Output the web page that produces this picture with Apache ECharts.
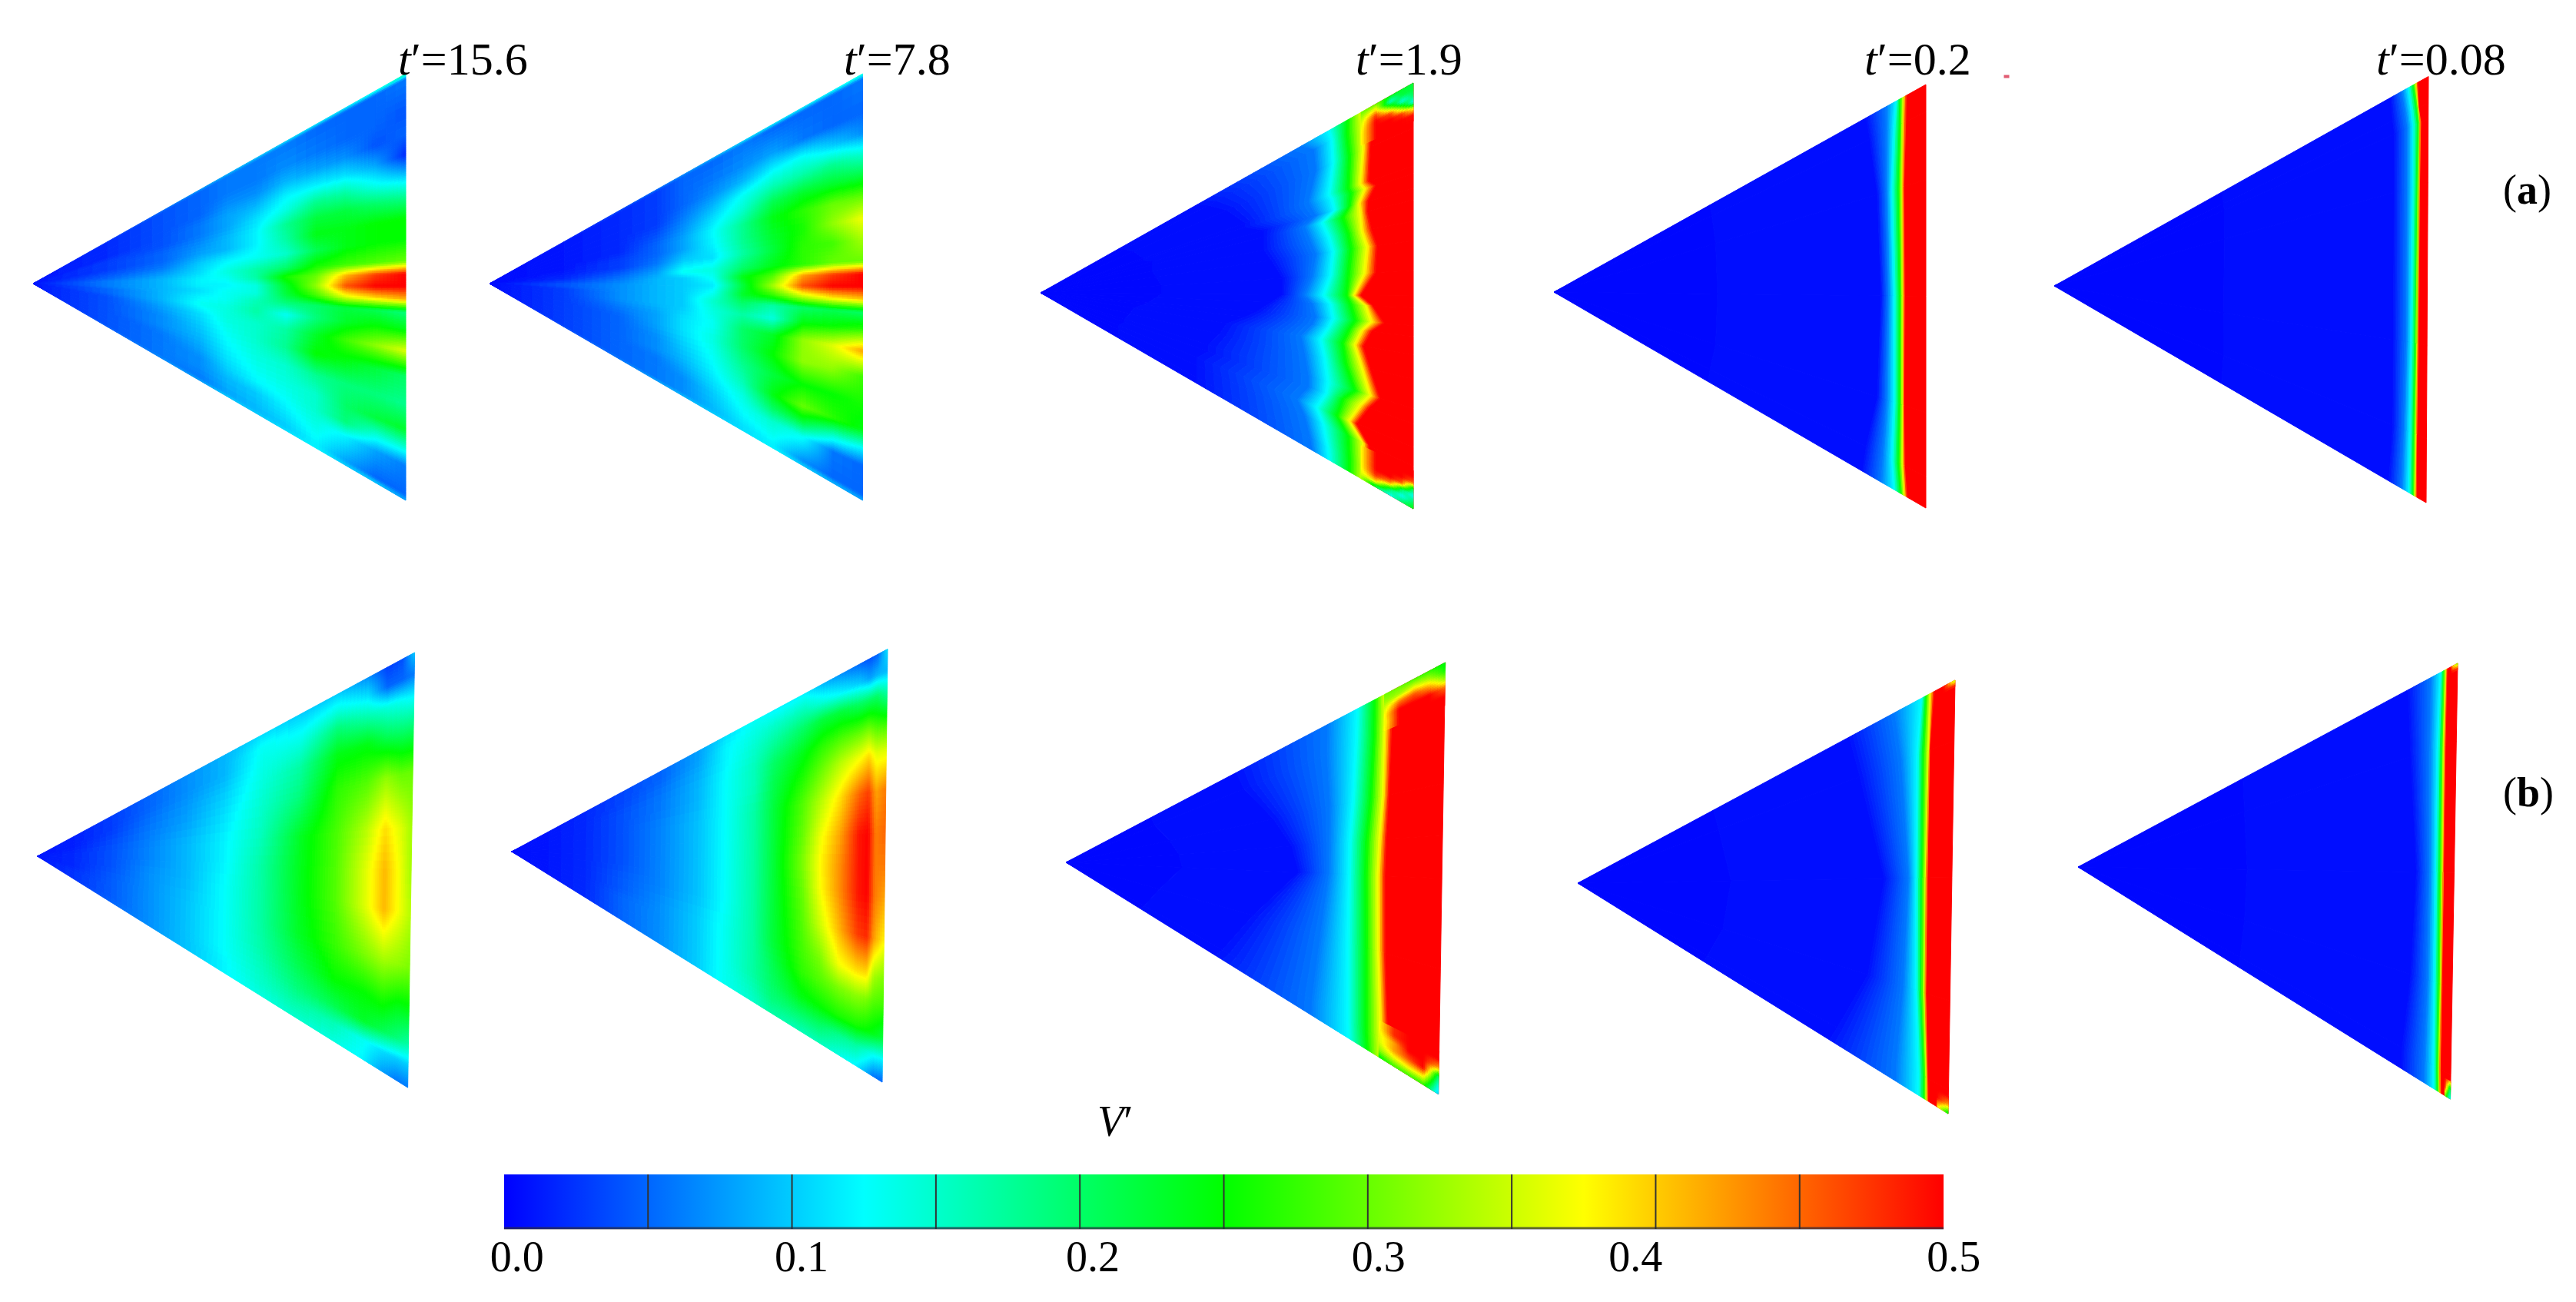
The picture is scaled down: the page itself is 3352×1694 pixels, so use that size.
<!DOCTYPE html>
<html><head><meta charset="utf-8">
<style>html,body{margin:0;padding:0;background:#fff}#c{width:3352px;height:1694px}</style>
<script src="https://cdn.jsdelivr.net/npm/echarts@6/dist/echarts.min.js"></script>
</head><body><div id="c"></div>
<script>
// ---------- colour scale ----------
const colorRamp = ['#0000ff','#00ffff','#00ff00','#ffff00','#ff0000'];
const vMax = 0.5;
const barTicks = [0.05,0.1,0.15,0.2,0.25,0.3,0.35,0.4,0.45];
const barLabelValues = [0.0045,0.1033,0.2045,0.3037,0.393,0.5035];
const timeLabels = ['15.6','7.8','1.9','0.2','0.08'];

// ---------- V': columns along xi, rows along eta (wedge coordinates) ----------
const xiA = [0,.2,.35,.45,.52,.6,.68,.76,.84,.92,1];
const etaA = [1,.975,.82,.72,.62,.52,.42,.32,.22,.12,.06,0,-.06,-.12,-.2,-.3,-.42,-.55,-.67,-.76,-.84,-.975,-1];
const panel1 = [
[.01,.01,.01,.01,.01,.01,.01,.01,.01,.01,.01,.01,.01,.01,.01,.01,.01,.01,.01,.01,.01,.01,.01],
[.03,.02,.02,.02,.02,.03,.03,.03,.04,.05,.06,.06,.06,.05,.05,.04,.04,.04,.04,.04,.04,.04,.05],
[.06,.04,.04,.04,.04,.04,.05,.05,.06,.08,.09,.09,.09,.09,.09,.08,.07,.07,.06,.06,.06,.06,.07],
[.08,.05,.05,.05,.06,.06,.07,.08,.1,.11,.12,.12,.11,.12,.13,.11,.1,.09,.08,.07,.07,.06,.08],
[.09,.06,.06,.07,.08,.08,.09,.09,.12,.14,.13,.12,.13,.13,.14,.14,.13,.12,.11,.1,.09,.08,.1],
[.1,.06,.06,.07,.09,.11,.12,.12,.13,.17,.17,.14,.14,.16,.17,.15,.15,.14,.13,.12,.1,.09,.1],
[.11,.06,.07,.09,.12,.14,.18,.17,.15,.2,.26,.23,.22,.19,.13,.17,.18,.15,.14,.13,.12,.1,.11],
[.12,.05,.06,.08,.12,.18,.22,.24,.21,.26,.3,.32,.28,.2,.19,.23,.25,.18,.15,.15,.14,.12,.12],
[.12,.05,.05,.07,.11,.17,.22,.24,.24,.28,.41,.46,.36,.22,.23,.28,.24,.19,.2,.19,.12,.08,.1],
[.14,.05,.05,.04,.08,.13,.2,.25,.25,.29,.47,.5,.39,.21,.25,.32,.22,.19,.22,.14,.08,.05,.1],
[.17,.06,.04,.05,.02,.1,.18,.25,.25,.3,.5,.5,.41,.19,.24,.36,.2,.18,.23,.14,.06,.05,.08]];
const panel2 = [
[.005,.005,.005,.005,.005,.005,.005,.005,.005,.005,.005,.005,.005,.005,.005,.005,.005,.005,.005,.005,.005,.005,.005],
[.02,.01,.01,.01,.01,.01,.01,.01,.015,.02,.03,.04,.04,.03,.03,.03,.03,.03,.03,.03,.03,.03,.04],
[.04,.02,.02,.02,.02,.02,.02,.03,.03,.05,.06,.07,.07,.07,.07,.06,.05,.05,.05,.05,.05,.05,.06],
[.06,.03,.03,.03,.03,.04,.05,.05,.06,.08,.09,.09,.09,.09,.09,.08,.08,.07,.07,.06,.06,.06,.08],
[.07,.05,.05,.05,.06,.07,.08,.08,.1,.13,.1,.1,.1,.1,.1,.11,.11,.1,.09,.08,.07,.07,.09],
[.09,.05,.06,.07,.09,.11,.125,.12,.11,.14,.13,.115,.13,.15,.14,.13,.14,.13,.12,.11,.1,.09,.1],
[.11,.06,.07,.09,.13,.15,.18,.18,.17,.2,.24,.22,.23,.2,.17,.2,.2,.18,.16,.14,.13,.11,.11],
[.12,.05,.08,.12,.16,.21,.24,.23,.22,.24,.29,.33,.27,.17,.14,.23,.25,.22,.24,.2,.15,.12,.12],
[.12,.05,.06,.13,.17,.23,.27,.26,.27,.27,.42,.46,.34,.2,.24,.32,.32,.25,.3,.22,.13,.07,.1],
[.13,.05,.05,.1,.18,.23,.3,.32,.28,.3,.47,.5,.38,.21,.25,.36,.32,.25,.27,.15,.06,.05,.09],
[.15,.06,.05,.07,.15,.22,.3,.37,.33,.3,.5,.5,.4,.2,.27,.42,.28,.26,.24,.12,.05,.05,.08]];

const xi6 = [0,.1,.2,.3,.4,.5,.6,.7,.8,.88,.93,.97,1];
const eta6 = [1,.9,.8,.65,.45,.2,0,-.2,-.45,-.65,-.8,-.9,-1];
const panel6 = [
[.01,.01,.01,.01,.01,.01,.01,.01,.01,.01,.01,.01,.01],
[.015,.015,.015,.015,.015,.02,.02,.02,.02,.025,.025,.025,.025],
[.03,.03,.03,.03,.035,.04,.04,.04,.045,.045,.045,.045,.05],
[.05,.05,.05,.055,.06,.065,.065,.07,.07,.07,.07,.07,.07],
[.07,.07,.07,.075,.08,.09,.09,.09,.095,.095,.095,.095,.095],
[.09,.09,.09,.1,.11,.12,.12,.125,.125,.125,.125,.12,.12],
[.11,.13,.135,.14,.15,.16,.17,.17,.17,.165,.155,.15,.14],
[.1,.12,.14,.17,.19,.23,.235,.235,.23,.21,.19,.17,.15],
[.1,.14,.19,.24,.27,.285,.29,.29,.275,.25,.21,.16,.14],
[.07,.11,.16,.24,.29,.34,.36,.36,.31,.25,.23,.13,.12],
[.03,.05,.14,.21,.32,.39,.41,.41,.33,.26,.21,.11,.08],
[.04,.05,.13,.2,.3,.36,.37,.37,.32,.24,.19,.1,.06],
[.1,.06,.12,.2,.3,.33,.33,.34,.31,.24,.17,.1,.06]];

const xi7 = [0,.1,.2,.3,.4,.5,.57,.65,.7,.78,.83,.88,.93,.955,.975,1];
const eta7 = [1,.9,.8,.65,.53,.35,.15,0,-.15,-.35,-.53,-.65,-.8,-.9,-1];
const panel7 = [
[.005,.005,.005,.005,.005,.005,.005,.005,.005,.005,.005,.005,.005,.005,.005],
[.01,.01,.01,.01,.01,.01,.01,.01,.01,.01,.01,.01,.01,.01,.01],
[.02,.02,.02,.02,.02,.02,.02,.02,.02,.02,.02,.02,.02,.02,.02],
[.035,.035,.035,.04,.04,.04,.04,.04,.04,.045,.045,.05,.05,.05,.05],
[.05,.05,.055,.06,.06,.065,.065,.065,.065,.065,.07,.07,.07,.07,.07],
[.08,.08,.085,.09,.09,.095,.095,.095,.095,.095,.1,.1,.1,.1,.1],
[.11,.12,.12,.125,.125,.125,.125,.125,.125,.125,.13,.13,.13,.13,.13],
[.13,.14,.15,.16,.16,.17,.17,.17,.17,.17,.17,.17,.17,.16,.15],
[.12,.15,.17,.2,.21,.22,.22,.22,.22,.22,.22,.21,.2,.19,.17],
[.12,.16,.2,.24,.26,.29,.3,.31,.3,.29,.28,.27,.24,.2,.16],
[.09,.14,.22,.27,.3,.34,.37,.38,.375,.35,.31,.29,.25,.2,.16],
[.07,.12,.22,.29,.34,.39,.42,.43,.43,.41,.37,.31,.26,.18,.14],
[.05,.1,.2,.3,.37,.45,.49,.49,.49,.47,.39,.32,.26,.17,.12],
[.04,.08,.2,.31,.39,.47,.5,.5,.5,.48,.39,.31,.25,.15,.09],
[.05,.09,.2,.29,.36,.42,.44,.44,.44,.42,.33,.29,.24,.13,.06],
[.11,.09,.17,.28,.36,.44,.45,.44,.42,.38,.31,.28,.22,.12,.05]];

// ---------- front panels: for each eta, the xi where V' reaches each level ----------
const frontLevels = [.002,.008,.06,.125,.25,.375,.5,.5];
const panel3Front = [
[1,.42,.70,.775,.825,.865,.89],[.93,.45,.735,.783,.823,.867,.889],[.79,.5,.74,.786,.83,.867,.886],
[.61,.55,.72,.775,.827,.86,.882],[.575,.55,.725,.783,.834,.871,.9],[.505,.6,.74,.79,.83,.856,.88],
[.45,.6,.71,.757,.812,.86,.878],[.35,.6,.725,.775,.827,.864,.889],[.26,.62,.74,.786,.834,.878,.904],
[.12,.65,.73,.779,.827,.871,.9],[0,.65,.71,.76,.823,.842,.86],[-.055,.62,.73,.779,.834,.875,.893],
[-.14,.58,.74,.786,.845,.889,.923],[-.19,.55,.73,.775,.83,.864,.889],[-.275,.5,.7,.753,.812,.845,.867],
[-.39,.48,.71,.764,.82,.864,.886],[-.53,.45,.72,.772,.845,.886,.912],[-.6,.45,.72,.768,.812,.86,.882],
[-.71,.42,.69,.742,.797,.83,.849],[-.8,.42,.71,.76,.827,.867,.882],[-.93,.42,.725,.772,.83,.871,.886],
[-1,.42,.73,.775,.83,.87,.89]];
const panel4Front = [
[1,.84,.895,.922,.932,.941,.949],[.87,.85,.895,.916,.932,.939,.948],[.55,.87,.895,.91,.928,.937,.943],
[0,.88,.9,.916,.932,.939,.945],[-.55,.87,.895,.916,.931,.939,.943],[-.85,.84,.885,.911,.928,.939,.945],
[-1,.83,.88,.916,.934,.943,.951]];
const panel5Front = [
[1,.9,.93,.948,.961,.967,.973],[.875,.905,.94,.957,.97,.975,.976],[.8,.91,.945,.961,.975,.978,.982],
[.5,.91,.945,.961,.973,.977,.98],[-.26,.91,.945,.959,.97,.975,.978],[-.7,.91,.94,.957,.967,.973,.976],
[-1,.9,.935,.955,.966,.971,.976]];
const panel8Front = [
[1,.45,.69,.77,.815,.845,.862],[.8,.47,.69,.768,.815,.844,.862],[.44,.55,.7,.762,.809,.842,.857],
[.2,.6,.7,.755,.8,.835,.852],[0,.62,.7,.755,.799,.832,.85],[-.42,.5,.68,.755,.803,.836,.854],
[-.89,.42,.66,.758,.806,.846,.865],[-1,.4,.66,.76,.81,.85,.868]];
const panel9Front = [
[1,.72,.84,.913,.924,.935,.946],[.72,.75,.86,.904,.919,.934,.937],[.09,.82,.885,.906,.921,.931,.936],
[-.48,.78,.875,.911,.924,.933,.937],[-.89,.7,.86,.921,.935,.942,.945],[-1,.68,.86,.921,.936,.943,.947]];
const panel10Front = [
[1,.87,.93,.957,.964,.97,.974],[.64,.88,.93,.953,.962,.968,.973],[.04,.9,.935,.953,.963,.97,.974],
[-.49,.89,.935,.954,.965,.971,.974],[-.89,.87,.93,.956,.965,.97,.974],[-1,.87,.93,.957,.967,.972,.976]];

// ---------- corner patches ----------
const xiCorner3 = [.86,.9,.94,.97,1];
const etaTop3 = [1,.97,.94,.91,.88,.85,.82];
const top3 = [[.3,.33,.35,.36,.37,.37,.37],[.3,.38,.47,.5,.5,.5,.5],[.24,.15,.3,.46,.5,.5,.5],[.23,.22,.14,.3,.47,.5,.5],[.22,.22,.2,.13,.36,.49,.5]];
const etaBot3 = [-.82,-.85,-.88,-.91,-.94,-.97,-1];
const bot3 = [[.37,.37,.37,.37,.37,.36,.33],[.5,.5,.5,.5,.48,.4,.2],[.5,.5,.5,.5,.42,.2,.13],[.5,.5,.5,.45,.2,.13,.2],[.5,.5,.45,.2,.13,.2,.24]];
const xiCorner8 = [.84,.88,.92,.96,1];
const etaTop8 = [1,.96,.92,.88,.84,.8];
const top8 = [[.3,.32,.35,.37,.36,.37],[.3,.33,.44,.5,.5,.5],[.28,.36,.46,.5,.5,.5],[.27,.33,.42,.5,.5,.5],[.24,.26,.33,.45,.5,.5]];
const etaBot8 = [-.8,-.84,-.88,-.92,-.96,-1];
const bot8 = [[.37,.37,.36,.35,.32,.24],[.48,.48,.42,.42,.36,.28],[.5,.5,.5,.46,.38,.28],[.5,.5,.5,.5,.38,.27],[.5,.5,.42,.2,.14,.1]];
const xiTip9 = [.97,1];
const etaTop9 = [1,.97];
const top9 = [[.5,.5],[.33,.5]];
const etaBot9 = [-.92,-.96,-1];
const bot9 = [[.5,.5,.4],[.5,.42,.23]];
const xiTip10 = [.985,1];
const etaTop10 = [1,.97];
const top10 = [[.43,.5],[.3,.5]];
const etaBot10 = [-.92,-.96,-1];
const bot10 = [[.5,.5,.32],[.42,.17,.12]];
const speck = [[1.217,1.038]];

// ---------- layout (pixels of the page) ----------
const table = (xi,eta,cols)=>xi.map((x,i)=>eta.map((e,j)=>[x,e,cols[i][j]]));
const front = rows=>frontLevels.map((lv,i)=>rows.map(r=>[i===0?0:(i===frontLevels.length-1?1:r[i]),r[0],lv]));
const layout = [
 {ax:43,ay:369,rx:528,top:96,bot:651,skew:0,meshes:[table(xiA,etaA,panel1)]},
 {ax:637,ay:369,rx:1122.5,top:96,bot:651,skew:0,meshes:[table(xiA,etaA,panel2)]},
 {ax:1354,ay:381,rx:1839,top:108,bot:662,skew:0,meshes:[front(panel3Front),table(xiCorner3,etaTop3,top3),table(xiCorner3,etaBot3,bot3)]},
 {ax:2022,ay:380,rx:2506,top:110,bot:661,skew:0,meshes:[front(panel4Front)]},
 {ax:2673,ay:372,rx:3160,top:99.5,bot:654,skew:3,meshes:[front(panel5Front)]},
 {ax:48.6,ay:1114,rx:539.6,top:849,bot:1415,skew:9,meshes:[table(xi6,eta6,panel6)]},
 {ax:665.7,ay:1108,rx:1155,top:844.5,bot:1408,skew:7,meshes:[table(xi7,eta7,panel7)]},
 {ax:1387,ay:1122,rx:1880.7,top:862,bot:1423.6,skew:9,meshes:[front(panel8Front),table(xiCorner8,etaTop8,top8),table(xiCorner8,etaBot8,bot8)]},
 {ax:2053,ay:1149,rx:2544,top:885,bot:1449,skew:9,meshes:[front(panel9Front),table(xiTip9,etaTop9,top9),table(xiTip9,etaBot9,bot9)]},
 {ax:2704,ay:1128,rx:3198,top:863,bot:1430,skew:9.5,meshes:[front(panel10Front),table(xiTip10,etaTop10,top10),table(xiTip10,etaBot10,bot10)]}
];
const timeLeft = [518,1098,1764,2426,3092];
const serif = '"Liberation Serif"';
const ramp = v=>echarts.color.lerp(Math.max(0,Math.min(1,v/vMax)),colorRamp);

// ---------- series ----------
const grids=[],xAxes=[],yAxes=[],series=[];
layout.forEach((p,k)=>{
  const h=p.bot-p.top, w=p.rx-p.ax;
  grids.push({left:p.ax,top:p.top,width:w,height:h,containLabel:false});
  xAxes.push({type:'value',gridIndex:k,min:0,max:1,show:false});
  yAxes.push({type:'value',gridIndex:k,min:-1,max:1,show:false});
  const apexN = 1-2*(p.ay-p.top)/h, sk=p.skew/w;
  const toData=(xi,eta)=>[xi*(1-sk*(1-eta)/2), apexN+xi*(eta-apexN)];
  const cells=[];
  p.meshes.forEach((m,mi)=>{ for(let i=0;i<m.length-1;i++) for(let j=0;j<m[0].length-1;j++) cells.push([mi,i,j]); });
  series.push({
    type:'custom',coordinateSystem:'cartesian2d',xAxisIndex:k,yAxisIndex:k,
    silent:true,animation:false,progressive:0,clip:false,data:cells,
    renderItem(params,api){
      const c=cells[params.dataIndex], m=p.meshes[c[0]], i=c[1], j=c[2];
      const A=m[i][j],B=m[i+1][j],C=m[i+1][j+1],D=m[i][j+1];
      const a=api.coord(toData(A[0],A[1])),b=api.coord(toData(B[0],B[1])),
            cc=api.coord(toData(C[0],C[1])),d=api.coord(toData(D[0],D[1]));
      const du=Math.max(Math.abs(A[2]-B[2]),Math.abs(D[2]-C[2])), dv=Math.max(Math.abs(A[2]-D[2]),Math.abs(B[2]-C[2]));
      const lu=Math.max(Math.hypot(b[0]-a[0],b[1]-a[1]),Math.hypot(cc[0]-d[0],cc[1]-d[1]));
      const lv=Math.max(Math.hypot(d[0]-a[0],d[1]-a[1]),Math.hypot(cc[0]-b[0],cc[1]-b[1]));
      const step=0.004, pxMin=2.5;
      const nu=Math.max(1,Math.min(Math.ceil(du/step),Math.ceil(lu/pxMin)));
      const nv=Math.max(1,Math.min(Math.ceil(dv/step),Math.ceil(lv/pxMin)));
      const P=(u,v)=>[(1-u)*(1-v)*a[0]+u*(1-v)*b[0]+u*v*cc[0]+(1-u)*v*d[0],
                      (1-u)*(1-v)*a[1]+u*(1-v)*b[1]+u*v*cc[1]+(1-u)*v*d[1]];
      const V=(u,v)=>(1-u)*(1-v)*A[2]+u*(1-v)*B[2]+u*v*C[2]+(1-u)*v*D[2];
      const children=[];
      for(let s=0;s<nu;s++) for(let t=0;t<nv;t++){
        const u0=s/nu,u1=(s+1)/nu,v0=t/nv,v1=(t+1)/nv;
        const col=ramp(V((u0+u1)/2,(v0+v1)/2));
        children.push({type:'polygon',silent:true,shape:{points:[P(u0,v0),P(u1,v0),P(u1,v1),P(u0,v1)]},
          style:{fill:col,stroke:col,lineWidth:1}});
      }
      return {type:'group',children};
    }
  });
});
series.push({type:'scatter',xAxisIndex:3,yAxisIndex:3,data:speck,symbol:'rect',symbolSize:[7,4],clip:false,silent:true,animation:false,itemStyle:{color:'#d9334f'}});

// colour bar
const barIdx=grids.length;
grids.push({left:581,top:1528,width:2023,height:71,containLabel:false});
xAxes.push({type:'value',gridIndex:barIdx,min:-0.02,max:0.52,axisLine:{show:false},axisTick:{show:false},splitLine:{show:false},
  axisLabel:{customValues:barLabelValues,formatter:v=>v.toFixed(1),fontFamily:serif,fontSize:56,color:'#000',margin:12}});
yAxes.push({type:'value',gridIndex:barIdx,min:0,max:1,show:false});
series.push({type:'custom',coordinateSystem:'cartesian2d',xAxisIndex:barIdx,yAxisIndex:barIdx,silent:true,animation:false,
  data:[[0,vMax]],
  renderItem(params,api){
    const p0=api.coord([api.value(0),1]),p1=api.coord([api.value(1),0]);
    const kids=[{type:'rect',shape:{x:p0[0],y:p0[1],width:p1[0]-p0[0],height:p1[1]-p0[1]},
      style:{fill:new echarts.graphic.LinearGradient(0,0,1,0,colorRamp.map((c,i)=>({offset:i/(colorRamp.length-1),color:c})))}}];
    barTicks.forEach(t=>{const a=api.coord([t,1]),b=api.coord([t,0]);
      kids.push({type:'line',shape:{x1:a[0],y1:a[1],x2:b[0],y2:b[1]},style:{stroke:'#333',lineWidth:2}});});
    kids.push({type:'line',shape:{x1:p0[0],y1:p1[1]-1,x2:p1[0],y2:p1[1]-1},style:{stroke:'rgba(40,40,60,.7)',lineWidth:3}});
    return {type:'group',children:kids};
  }});

// ---------- text ----------
const rich=(size)=>({i:{fontFamily:serif,fontStyle:'italic',fontWeight:'normal',fontSize:size,color:'#000'},
  n:{fontFamily:serif,fontWeight:'normal',fontSize:size,color:'#000'},b:{fontFamily:serif,fontWeight:'bold',fontSize:size,color:'#000'}});
const titles=timeLabels.map((t,i)=>({text:`{i|t}{n|′=${t}}`,left:timeLeft[i],top:51,padding:0,textStyle:{fontWeight:'normal',rich:rich(60)}}));
titles.push({text:'{n|(}{b|a}{n|)}',left:3257,top:224,padding:0,textStyle:{fontWeight:'normal',rich:rich(54)}});
titles.push({text:'{n|(}{b|b}{n|)}',left:3257,top:1008,padding:0,textStyle:{fontWeight:'normal',rich:rich(54)}});
titles.push({text:'{i|V}{n|′}',left:1428,top:1435,padding:0,textStyle:{fontWeight:'normal',rich:rich(56)}});

const chart=echarts.init(document.getElementById('c'),null,{renderer:'canvas',width:3352,height:1694});
chart.setOption({backgroundColor:'#fff',animation:false,title:titles,grid:grids,xAxis:xAxes,yAxis:yAxes,series});
</script></body></html>
